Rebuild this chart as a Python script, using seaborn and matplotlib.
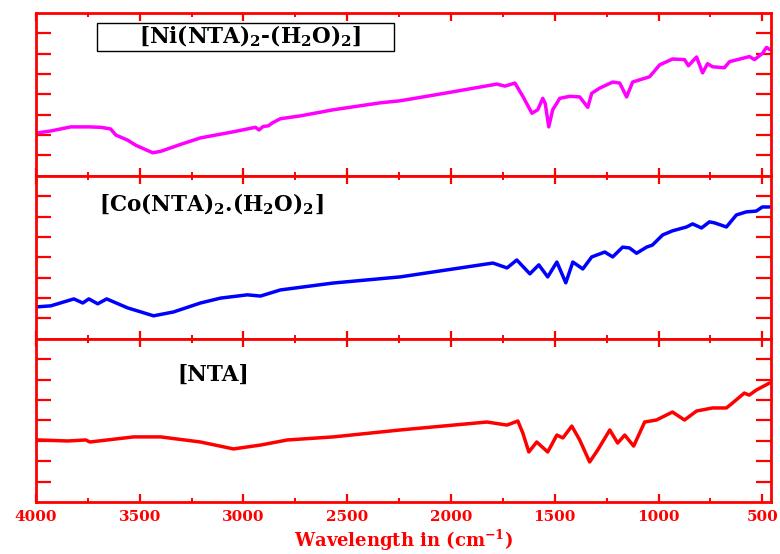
import matplotlib
matplotlib.use("Agg")
import matplotlib.pyplot as plt
import seaborn as sns
from matplotlib.patches import Rectangle
from matplotlib.ticker import MultipleLocator

# wavenumber (cm-1) / relative transmittance
ni_wn = [3995, 3928, 3832, 3745, 3688, 3640, 3615, 3558, 3519, 3437, 3399, 3300, 3207,
         3048, 2942, 2925, 2905, 2880, 2860, 2822, 2726, 2567, 2341, 2245, 2019, 1779,
         1740, 1692, 1654, 1610, 1582, 1558, 1546, 1529, 1510, 1476, 1428, 1380, 1341,
         1322, 1284, 1221, 1187, 1154, 1125, 1043, 995, 933, 875, 856, 817, 788, 764,
         740, 683, 658, 562, 538, 500, 480, 466]
ni_t = [2.1, 2.2, 2.4, 2.4, 2.38, 2.3, 2.0, 1.75, 1.5, 1.13, 1.2, 1.55, 1.86,
        2.16, 2.38, 2.25, 2.42, 2.45, 2.6, 2.8, 2.94, 3.24, 3.58, 3.68, 4.07, 4.5,
        4.4, 4.55, 3.9, 3.07, 3.24, 3.8, 3.55, 2.4, 3.24, 3.8, 3.9, 3.87, 3.36,
        4.05, 4.3, 4.6, 4.55, 3.87, 4.6, 4.86, 5.44, 5.73, 5.7, 5.4, 5.83, 5.05, 5.5,
        5.35, 5.3, 5.6, 5.85, 5.7, 6.0, 6.3, 6.2]

co_wn = [3995, 3928, 3817, 3774, 3745, 3702, 3659, 3558, 3433, 3337, 3207, 3110, 2981,
         2918, 2822, 2567, 2245, 1798, 1730, 1683, 1620, 1577, 1534, 1490, 1447, 1413,
         1365, 1322, 1259, 1221, 1173, 1140, 1106, 1058, 1030, 980, 933, 865, 836, 793,
         755, 730, 673, 625, 577, 529, 500, 466]
co_t = [1.57, 1.62, 1.96, 1.76, 1.96, 1.72, 1.96, 1.52, 1.13, 1.32, 1.76, 2.0, 2.16,
        2.1, 2.4, 2.74, 3.04, 3.72, 3.48, 3.87, 3.19, 3.63, 3.04, 3.77, 2.75, 3.77,
        3.43, 4.02, 4.26, 4.02, 4.5, 4.46, 4.2, 4.5, 4.6, 5.1, 5.3, 5.49, 5.64, 5.44,
        5.74, 5.69, 5.49, 6.08, 6.23, 6.27, 6.47, 6.47]

nta_wn = [3990, 3846, 3760, 3740, 3529, 3399, 3207, 3048, 2918, 2788, 2567, 2245, 1827,
          1730, 1678, 1654, 1625, 1587, 1534, 1490, 1461, 1418, 1380, 1332, 1293, 1235,
          1197, 1163, 1120, 1067, 1010, 933, 875, 817, 740, 673, 644, 587, 563, 529, 466]
nta_t = [3.04, 2.99, 3.04, 2.94, 3.19, 3.19, 2.94, 2.6, 2.79, 3.04, 3.19, 3.53, 3.92,
         3.77, 3.97, 3.38, 2.45, 2.94, 2.45, 3.28, 3.14, 3.72, 3.04, 1.96, 2.55, 3.53,
         2.89, 3.28, 2.74, 3.92, 4.02, 4.41, 4.02, 4.46, 4.61, 4.61, 4.85, 5.34, 5.24, 5.49, 5.83]

sns.set_style("white")
plt.rcParams['font.family'] = ['DejaVu Serif']
plt.rcParams['font.weight'] = 'bold'
plt.rcParams['mathtext.fontset'] = 'custom'
plt.rcParams['mathtext.rm'] = 'DejaVu Serif:bold'
plt.rcParams['mathtext.bf'] = 'DejaVu Serif:bold'
plt.rcParams['mathtext.default'] = 'bf'

red = '#ff0000'

fig, axes = plt.subplots(3, 1, figsize=(7.8, 5.54), sharex=True)
plt.subplots_adjust(left=0.046, right=0.988, top=0.977, bottom=0.094, hspace=0)

panels = [
    (ni_wn, ni_t, '#ff00ff', r'[Ni(NTA)$_2$-(H$_2$O)$_2$]', (0.291, 0.853)),
    (co_wn, co_t, '#0000ff', r'[Co(NTA)$_2$.(H$_2$O)$_2$]', (0.239, 0.822)),
    (nta_wn, nta_t, '#ff0000', '[NTA]', (0.241, 0.779)),
]

for ax, (wn, t, col, label, pos) in zip(axes, panels):
    sns.lineplot(x=wn, y=t, ax=ax, color=col, lw=2.5)
    ax.set_xlim(4000, 460)
    ax.set_ylim(0, 8)
    ax.set_yticks(range(1, 8))
    ax.xaxis.set_major_locator(MultipleLocator(500))
    ax.xaxis.set_minor_locator(MultipleLocator(250))
    ax.tick_params(axis='y', which='major', direction='in', left=True, right=True,
                   length=11, width=1.6, color=red, labelleft=False)
    ax.tick_params(axis='x', which='major', direction='in', top=True, bottom=True,
                   length=6, width=1.6, color=red)
    ax.tick_params(axis='x', which='minor', direction='in', top=True, bottom=True,
                   length=3, width=1.4, color=red)
    for s in ax.spines.values():
        s.set_color(red)
        s.set_linewidth(2)
    ax.set_ylabel('')
    ax.text(pos[0], pos[1], label, transform=ax.transAxes, fontsize=15.5,
            color='black', fontweight='bold', ha='center', va='center')

# frame round the top label
axes[0].add_patch(Rectangle((0.083, 0.767), 0.405, 0.172, transform=axes[0].transAxes,
                            facecolor='none', edgecolor='black', lw=1))

axes[2].tick_params(axis='x', labelcolor=red, labelsize=11, pad=6)
for lab in axes[2].get_xticklabels():
    lab.set_fontweight('bold')
axes[2].set_xlabel(r'Wavelength in (cm$^{-1}$)', color=red, fontsize=13,
                   fontweight='bold')
axes[2].xaxis.label.set_va('center')
axes[2].xaxis.set_label_coords(0.5, -0.235)

fig.savefig('out.png', dpi=100, facecolor='white')
